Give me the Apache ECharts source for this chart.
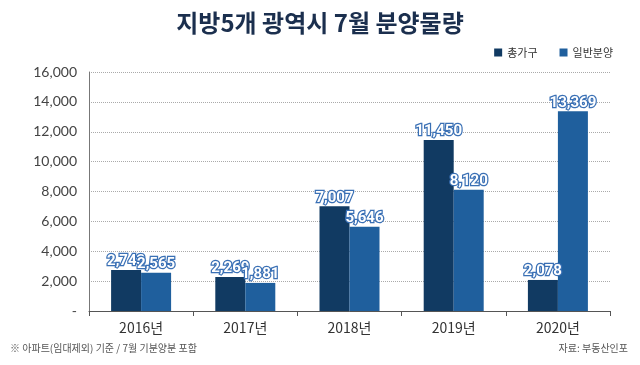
<!DOCTYPE html>
<html><head><meta charset="utf-8">
<script src="https://cdn.jsdelivr.net/npm/echarts@6/dist/echarts.min.js"></script>
<style>html,body{margin:0;padding:0;background:#fff}#c{width:640px;height:365px}</style>
</head><body><div id="c"></div>
<script>
var categories = ['2016년','2017년','2018년','2019년','2020년'];
var totalHouseholds = [2743, 2269, 7007, 11450, 2078];
var generalSale = [2565, 1881, 5646, 8120, 13369];
var yTicks = [0,2000,4000,6000,8000,10000,12000,14000,16000];

var chart = echarts.init(document.getElementById('c'));
var labelStyle = {
  show: true, position: 'top', distance: 1,
  formatter: function(p){ return p.value.toLocaleString('en-US'); },
  color: '#ffffff', fontFamily: 'Roboto', fontWeight: 'bold', fontSize: 15,
  textBorderColor: '#3a70b5', textBorderWidth: 2.5
};
chart.setOption({
  animation: false,
  title: {
    text: '지방5개 광역시 7월 분양물량', left: 'center', top: 6,
    textStyle: {fontFamily: 'Noto Sans CJK KR', fontWeight: 'bold', fontSize: 24, color: '#1b2f4e'}
  },
  legend: {
    right: 22, top: 42, itemWidth: 8, itemHeight: 8, itemGap: 22, icon: 'rect',
    textStyle: {fontFamily: 'Noto Sans CJK KR', fontSize: 11, color: '#333'}
  },
  grid: {left: 89, right: 30, top: 72, bottom: 54},
  xAxis: {
    type: 'category', data: categories,
    axisLine: {lineStyle: {color: '#555'}},
    axisTick: {show: true, length: 5, lineStyle: {color: '#555'}},
    axisLabel: {fontFamily: 'Noto Sans CJK KR', fontSize: 14, color: '#333', margin: 10}
  },
  yAxis: {
    type: 'value', min: 0, max: 16000, interval: 2000,
    axisLine: {show: true, lineStyle: {color: '#777'}},
    axisTick: {show: false},
    axisLabel: {fontFamily: 'Lato', fontSize: 14, color: '#444', margin: 12,
      formatter: function(v){ return v === 0 ? '-' : v.toLocaleString('en-US'); }},
    splitLine: {lineStyle: {color: '#aaa', type: 'dotted'}}
  },
  series: [
    {name: '총가구', type: 'bar', data: totalHouseholds, barWidth: 30, barGap: '0%',
     itemStyle: {color: '#113a62'}, label: labelStyle},
    {name: '일반분양', type: 'bar', data: generalSale, barWidth: 30,
     itemStyle: {color: '#1f5f9d'}, label: labelStyle}
  ],
  graphic: [
    {type: 'text', left: 10, top: 343, style: {text: '※ 아파트(임대제외) 기준 / 7월 기분양분 포함', fontFamily: 'Noto Sans CJK KR', fontSize: 10, fill: '#555'}},
    {type: 'text', right: 12, top: 343, style: {text: '자료: 부동산인포', fontFamily: 'Noto Sans CJK KR', fontSize: 10, fill: '#555'}}
  ]
});
</script></body></html>
